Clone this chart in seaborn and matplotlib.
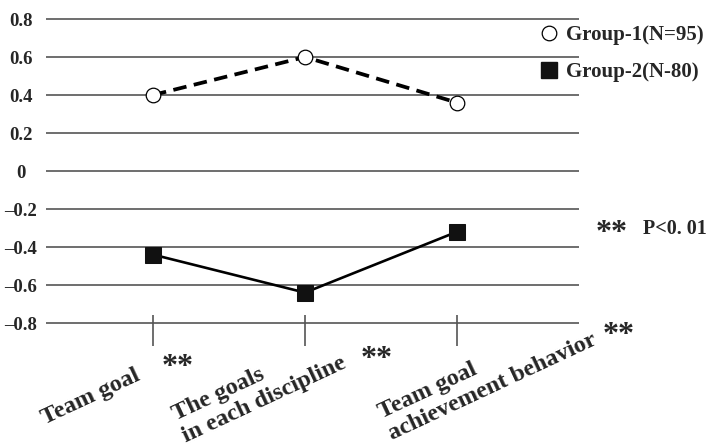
import matplotlib
matplotlib.use("Agg")
import matplotlib.pyplot as plt
from matplotlib.lines import Line2D
import seaborn as sns
import pandas as pd

# Data
categories = ["Team goal", "The goals\nin each discipline", "Team goal\nachievement behavior"]
group1_values = [0.40, 0.60, 0.36]
group2_values = [-0.44, -0.64, -0.32]
series_names = ["Group-1(N=95)", "Group-2(N-80)"]
y_ticks = [0.8, 0.6, 0.4, 0.2, 0.0, -0.2, -0.4, -0.6, -0.8]
y_tick_labels = ["0.8", "0.6", "0.4", "0.2", "0", "\u20130.2", "\u20130.4", "\u20130.6", "\u20130.8"]

sns.set_style("white")
plt.rcParams["font.family"] = ["Liberation Serif", "DejaVu Serif"]
plt.rcParams["font.weight"] = "bold"

W, H = 708, 447
fig = plt.figure(figsize=(W / 100, H / 100), dpi=100)

def fx(px):
    return px / W

def fy(py):
    return 1 - py / H

ax = fig.add_axes([fx(46), fy(351.5), (579 - 46) / W, 342 / H])

pos = list(range(len(categories)))
df = pd.DataFrame({
    "pos": pos * 2,
    "value": group1_values + group2_values,
    "group": [series_names[0]] * len(pos) + [series_names[1]] * len(pos),
})

g1 = df[df["group"] == series_names[0]]
g2 = df[df["group"] == series_names[1]]

sns.lineplot(data=g1, x="pos", y="value", ax=ax, color="black", lw=2.7,
             linestyle=(0, (3.6, 2.0)), marker="o", markersize=10.5,
             markerfacecolor="white", markeredgecolor="black",
             markeredgewidth=0.9, zorder=3, legend=False)
sns.lineplot(data=g2, x="pos", y="value", ax=ax, color="black", lw=1.9,
             marker="s", markersize=11, markerfacecolor="#111111",
             markeredgecolor="#111111", zorder=3, legend=False)

ax.set_xlim(-0.704, 2.803)
ax.set_ylim(-0.95, 0.85)
ax.set_yticks(y_ticks)
ax.set_yticklabels(y_tick_labels)
ax.set_xticks([])
ax.set_xlabel("")
ax.set_ylabel("")
ax.grid(axis="y", color="#555555", lw=1.2)
ax.grid(axis="x", visible=False)
sns.despine(ax=ax, left=True, bottom=True)
ax.tick_params(axis="y", length=0, pad=18, labelsize=13.5)
for lbl in ax.get_yticklabels():
    lbl.set_ha("center")
    lbl.set_fontweight("bold")

# short vertical category ticks crossing the lowest gridline
ax.vlines(pos, -0.921, -0.758, color="#555555", lw=1.2, zorder=2)

# rotated category labels, anchored at the baseline start of their last line
label_offsets = [(-108, -101), (-120, -117), (-66, -115)]
for i, (name, (dx, dy)) in enumerate(zip(categories, label_offsets)):
    ax.annotate(name, xy=(i, -0.8), xytext=(dx, dy), textcoords="offset pixels",
                rotation=25, rotation_mode="anchor", ha="left", va="baseline",
                multialignment="left", fontsize=17.5, fontweight="bold",
                annotation_clip=False, linespacing=1.15)

# significance marks
for (sx, sy) in [(178, 367), (377, 359), (619, 335), (612, 234)]:
    fig.text(fx(sx), fy(sy), "**", ha="center", va="center", fontsize=23,
             fontweight="bold")
fig.text(fx(643), fy(229), "P<0. 01", ha="left", va="center", fontsize=14.5,
         fontweight="bold")

# legend
handles = [
    Line2D([], [], linestyle="none", marker="o", markersize=10.5,
           markerfacecolor="white", markeredgecolor="black", markeredgewidth=0.9),
    Line2D([], [], linestyle="none", marker="s", markersize=11,
           markerfacecolor="#111111", markeredgecolor="#111111"),
]
fig.legend(handles, series_names, loc="upper left",
           bbox_to_anchor=(fx(538.6), fy(25)), frameon=False,
           prop={"size": 15, "weight": "bold"}, handlelength=1.0,
           handletextpad=0.3, borderpad=0, borderaxespad=0, labelspacing=0.84)

fig.savefig("out.png", dpi=100)
